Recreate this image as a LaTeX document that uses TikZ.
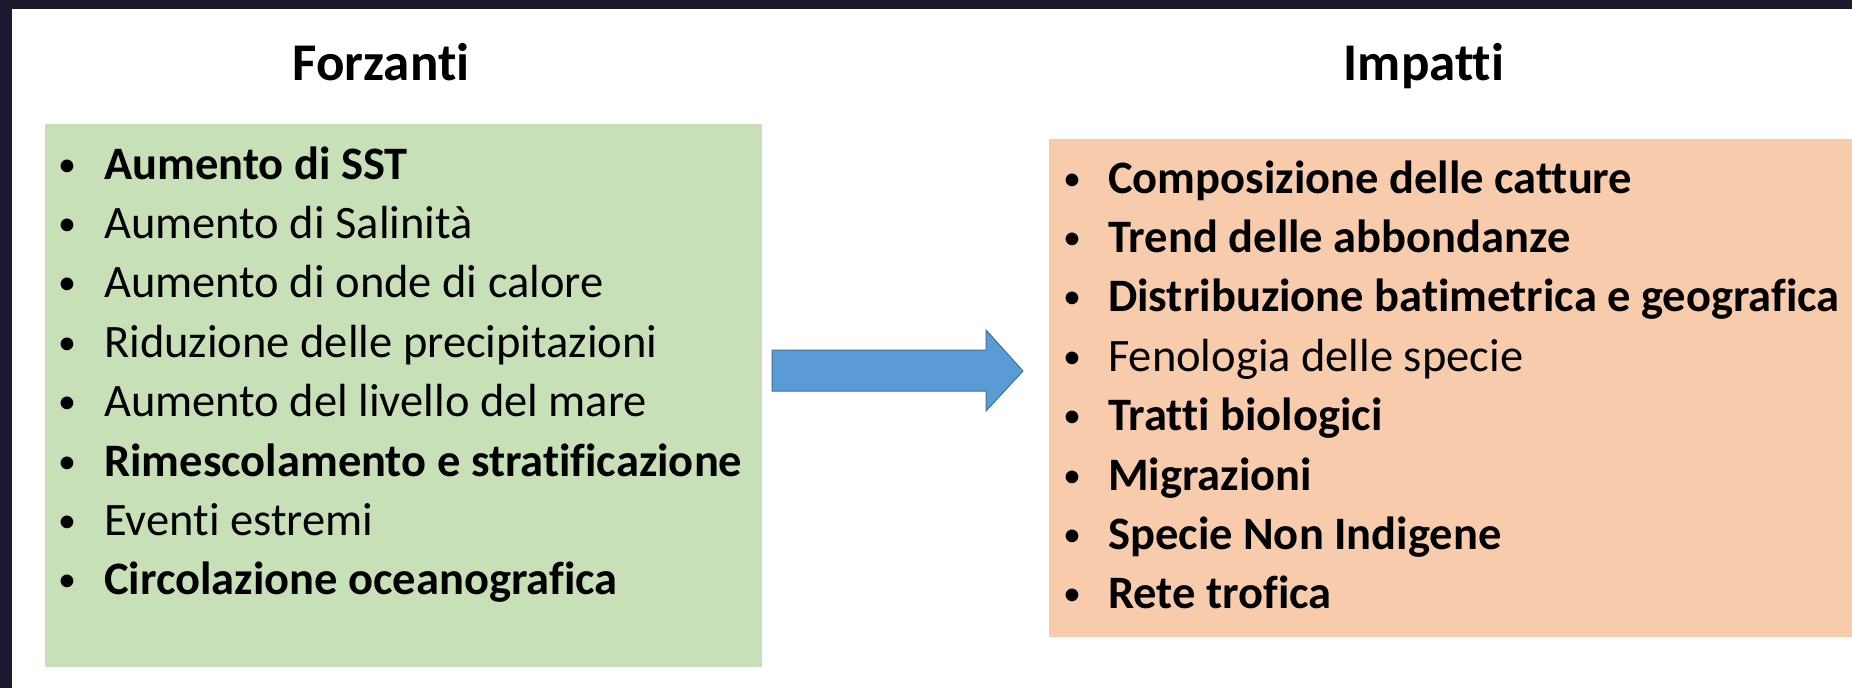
\documentclass[tikz,border=0pt]{standalone}
\usepackage{fontspec}
\setmainfont[Ligatures=NoCommon]{Carlito}
\definecolor{frame}{HTML}{1D1A2F}
\definecolor{greenbox}{HTML}{C8E0B8}
\definecolor{orangebox}{HTML}{F8CBAD}
\definecolor{arrowfill}{HTML}{5B9BD5}
\definecolor{arrowline}{HTML}{41719C}
\begin{document}
\begin{tikzpicture}[x=1pt,y=-1pt,
  heading/.style={anchor=base,inner sep=0pt,font=\fontsize{53}{60}\selectfont\bfseries},
  item/.style={anchor=base west,inner sep=0pt,font=\fontsize{46.5}{56}\selectfont},
  bitem/.style={item,font=\fontsize{46.5}{56}\selectfont\bfseries},
  bul/.style={anchor=base,inner sep=0pt,font=\fontsize{36}{40}\selectfont}]
\useasboundingbox (0,0) rectangle (1852,688);
\fill[frame] (0,0) rectangle (1852,688);
\fill[white] (12,9) rectangle (1852,688);
% boxes
\fill[greenbox] (45,124) rectangle (762,667);
\fill[orangebox] (1049,139) rectangle (1852,637);
% headings
\node[heading] (hf) at (381,80) {Forzanti};
\node[heading] (hi) at (1424,80) {Impatti};
% left list
\foreach \t/\s [count=\i from 0] in {
  Aumento di SST/bitem,
  Aumento di Salinità/item,
  Aumento di onde di calore/item,
  Riduzione delle precipitazioni/item,
  Aumento del livello del mare/item,
  Rimescolamento e stratificazione/bitem,
  Eventi estremi/item,
  Circolazione oceanografica/bitem}{
  \node[bul] (lb\i) at (67,176+59.4*\i) {•};
  \node[\s] (lt\i) at (104,179+59.4*\i) {\t};
}
% right list
\foreach \t/\s [count=\i from 0] in {
  Composizione delle catture/bitem,
  Trend delle abbondanze/bitem,
  Distribuzione batimetrica e geografica/bitem,
  Fenologia delle specie/item,
  Tratti biologici/bitem,
  Migrazioni/bitem,
  Specie Non Indigene/bitem,
  Rete trofica/bitem}{
  \node[bul] (rb\i) at (1072,190+59.4*\i) {•};
  \node[\s] (rt\i) at (1108,193+59.4*\i) {\t};
}
% block arrow
\draw[fill=arrowfill,draw=arrowline,line width=1pt,line join=miter]
  (772,350) -- (986,350) -- (986,330) -- (1023,371) -- (986,411) -- (986,391) -- (772,391) -- cycle;
\end{tikzpicture}
\end{document}
